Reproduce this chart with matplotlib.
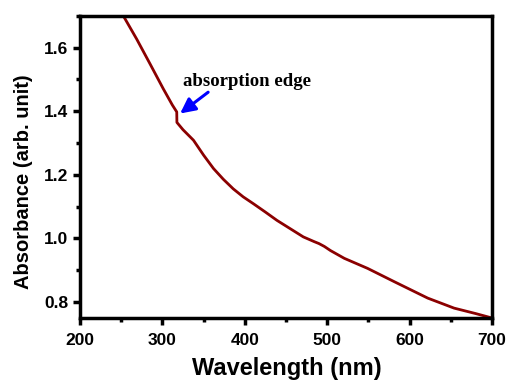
import matplotlib
matplotlib.use("Agg")
import matplotlib.pyplot as plt
from matplotlib.ticker import MultipleLocator

wavelength = [252.6, 268.8, 285.0, 301.0, 312.0, 317.4, 317.6, 325.0, 337.7, 350.0, 362.0,
              374.0, 386.0, 398.0, 410.6, 425.0, 439.0, 455.0, 471.0, 484.3, 490.0, 496.5,
              504.0, 520.8, 549.0, 581.5, 622.0, 654.0, 680.0, 700.0]
absorbance = [1.700, 1.627, 1.549, 1.471, 1.420, 1.398, 1.365, 1.342, 1.309, 1.262, 1.220,
              1.186, 1.156, 1.131, 1.109, 1.083, 1.057, 1.031, 1.005, 0.990, 0.984, 0.975,
              0.962, 0.9375, 0.906, 0.864, 0.8125, 0.781, 0.764, 0.750]

xticks = [200, 300, 400, 500, 600, 700]
yticks = [0.8, 1.0, 1.2, 1.4, 1.6]

fig = plt.figure(figsize=(5.08, 3.8), dpi=100)
ax = fig.add_axes([0.1575, 0.1632, 0.811, 0.795])

ax.plot(wavelength, absorbance, color="#8B0000", lw=2.0)

ax.set_xlim(200, 700)
ax.set_ylim(0.75, 1.70)
ax.set_xticks(xticks)
ax.set_yticks(yticks)
ax.set_xticklabels([str(v) for v in xticks])
ax.set_yticklabels([f"{v:.1f}" for v in yticks])
ax.xaxis.set_minor_locator(MultipleLocator(50))
ax.yaxis.set_minor_locator(MultipleLocator(0.1))

for s in ax.spines.values():
    s.set_linewidth(2.5)
ax.tick_params(which="major", direction="out", length=5, width=2.5, top=False, right=False)
ax.tick_params(axis="x", which="major", pad=6)
ax.tick_params(which="minor", direction="out", length=3, width=2.5, top=False, right=False)
for lab in ax.get_xticklabels() + ax.get_yticklabels():
    lab.set_fontfamily("Liberation Sans")
    lab.set_fontweight("bold")
    lab.set_fontsize(12.5)

ax.set_xlabel("Wavelength (nm)", fontfamily="Liberation Sans", fontweight="bold", fontsize=17)
ax.xaxis.set_label_coords(0.503, -0.128)
ax.set_ylabel("Absorbance (arb. unit)", fontfamily="Liberation Sans", fontweight="bold", fontsize=14.5)
ax.yaxis.set_label_coords(-0.115, 0.45)

ax.annotate("", xy=(321.5, 1.393), xytext=(355.5, 1.460),
            arrowprops=dict(arrowstyle="-|>,head_length=0.9,head_width=0.45", color="#0000FF", lw=2.2,
                            shrinkA=0, shrinkB=0))
ax.text(325.0, 1.481, "absorption edge", fontsize=13.5, fontfamily="Liberation Serif",
        fontweight="bold", ha="left", va="baseline")

fig.savefig("out.png", dpi=100)
